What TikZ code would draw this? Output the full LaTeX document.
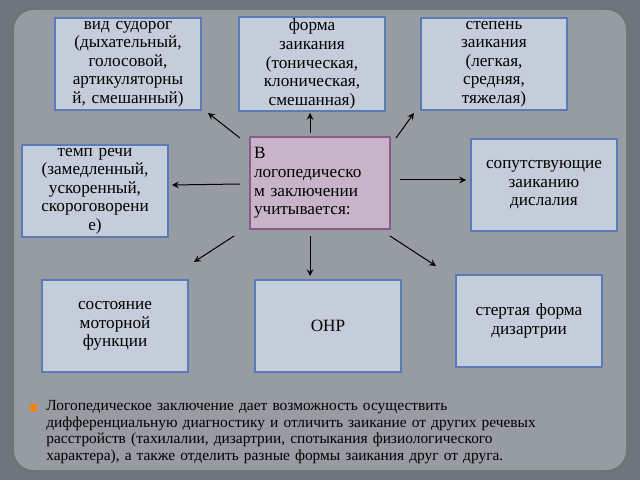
\documentclass[tikz,border=0pt]{standalone}
\usepackage{fontspec}
\setmainfont{Liberation Serif}
\usetikzlibrary{positioning}
\definecolor{boxfill}{HTML}{C5CCDA}
\definecolor{boxline}{HTML}{5B7BB8}
\definecolor{midfill}{HTML}{C8B4C8}
\definecolor{midline}{HTML}{8A5A8A}
\definecolor{bgout}{HTML}{6E747C}
\definecolor{bgin}{HTML}{979CA2}
\tikzset{infobox/.style={draw=boxline,fill=boxfill,line width=0.6pt,minimum width=73pt,minimum height=46pt,text width=70pt,align=center,inner sep=1pt,font=\fontsize{8.6}{9.3}\selectfont}}
\tikzset{midbox/.style={infobox,draw=midline,fill=midfill,minimum width=70pt,text width=66pt,align=left}}
\tikzset{pointer/.style={->,black,line width=0.5pt,>=stealth}}
\begin{document}
\begin{tikzpicture}[x=0.5pt,y=-0.5pt]
\useasboundingbox (0,0) rectangle (640,480);
\fill[bgout] (0,0) rectangle (640,480);
\fill[bgin,rounded corners=10pt] (14,10) rectangle (626,470);
% boxes
\node[midbox] (mid) at (320,183) {В\\логопедическо\\м заключении\\учитывается:};
\node[infobox] (vid) at (128,64) {вид судорог\\(дыхательный,\\голосовой,\\артикуляторны\\й, смешанный)};
\node[infobox] (forma) at (312,64) {форма\\заикания\\(тоническая,\\клоническая,\\смешанная)};
\node[infobox] (stepen) at (494,64) {степень\\заикания\\(легкая,\\средняя,\\тяжелая)};
\node[infobox] (temp) at (95,191) {темп речи\\(замедленный,\\ускоренный,\\скороговорени\\е)};
\node[infobox] (soput) at (544,185) {сопутствующие\\заиканию\\дислалия};
\node[infobox] (motor) at (115,326) {состояние\\моторной\\функции};
\node[infobox] (onr) at (328,326) {ОНР};
\node[infobox] (dizart) at (529,321) {стертая форма\\дизартрии};
% arrows
\draw[pointer] (240,138) -- (208,113);
\draw[pointer] (310,133) -- (310,113);
\draw[pointer] (396,138) -- (414,113);
\draw[pointer] (240,184) -- (172,185);
\draw[pointer] (400,180) -- (466,180);
\draw[pointer] (234,236) -- (194,262);
\draw[pointer] (310,236) -- (310,276);
\draw[pointer] (390,236) -- (436,266);
% note
\fill[orange] (30,404) rectangle (37,411);
\node[anchor=north west,text width=250pt,align=left,inner sep=0pt,font=\fontsize{7.7}{8.3}\selectfont] (note) at (46,400) {Логопедическое заключение дает возможность осуществить дифференциальную диагностику и отличить заикание от других речевых расстройств (тахилалии, дизартрии, спотыкания физиологического характера), а также отделить разные формы заикания друг от друга.};
\end{tikzpicture}
\end{document}
